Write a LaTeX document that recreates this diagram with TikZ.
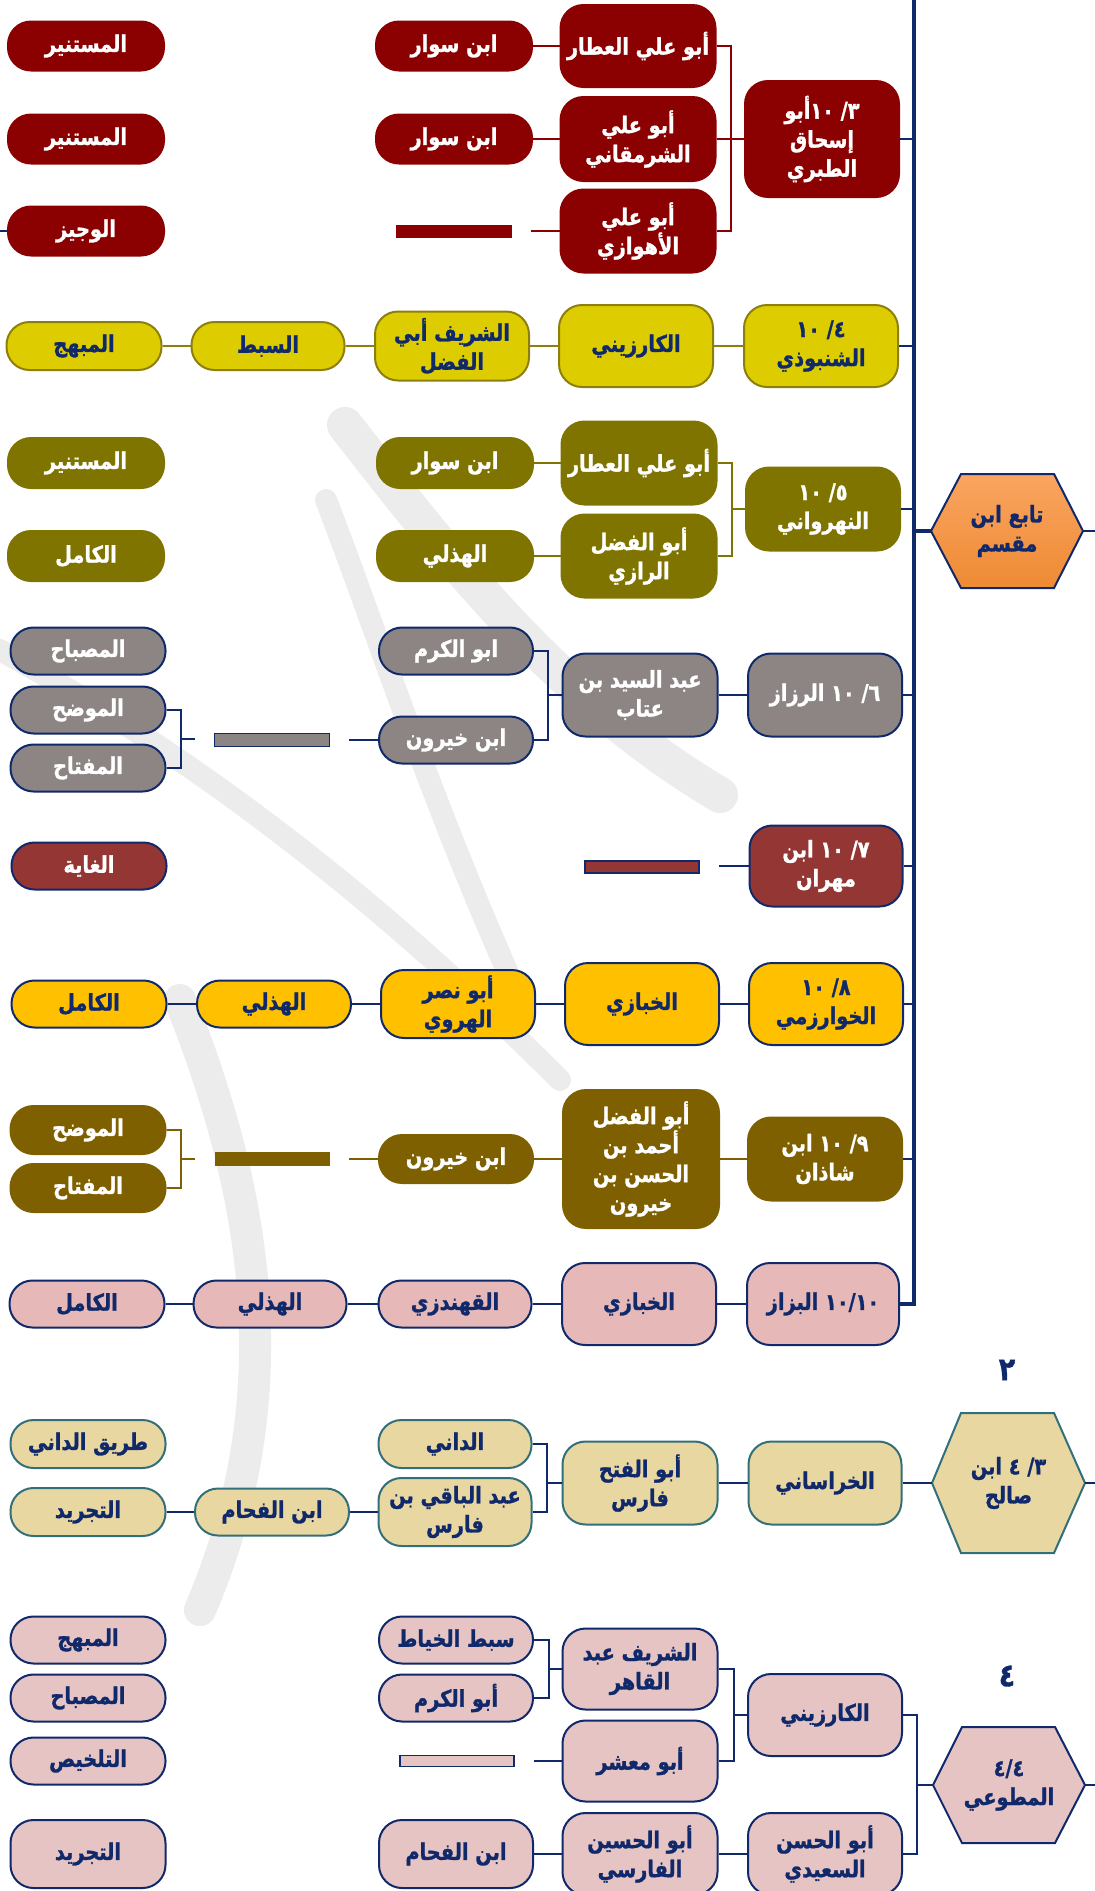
\documentclass[tikz,border=0pt]{standalone}
\usepackage{fontspec}
\TeXXeTstate=1
\newfontfamily\arfont[Script=Arabic, FakeStretch=0.84, FakeBold=1.2]{DejaVu Sans}
\newcommand\arl[1]{\beginR #1\endR}
\definecolor{navy}{HTML}{10296B}
\definecolor{dred}{HTML}{8B0000}
\definecolor{ylw}{HTML}{DDCD00}
\definecolor{ylwb}{HTML}{8C7F0C}
\definecolor{olv}{HTML}{807400}
\definecolor{gry}{HTML}{8C8584}
\definecolor{brick}{HTML}{943634}
\definecolor{gold}{HTML}{FFC000}
\definecolor{brn}{HTML}{7F6000}
\definecolor{pnk}{HTML}{E6B8B7}
\definecolor{parch}{HTML}{E9D7A2}
\definecolor{tealb}{HTML}{31707A}
\definecolor{pnkt}{HTML}{E6C4C4}
\definecolor{orA}{HTML}{FAA561}
\definecolor{orB}{HTML}{EE8A33}
\definecolor{wmc}{HTML}{ECECEC}
\tikzset{
 capbox/.style={rectangle, rounded corners=11.5pt, inner sep=0pt, align=center,
   font=\arfont\bfseries\fontsize{11.5}{14.5}\selectfont, line width=1pt},
 sz/.style 2 args={minimum width=#1*0.5pt, minimum height=#2*0.5pt},
 G1/.style={capbox, fill=dred, draw=dred, text=white},
 G2/.style={capbox, fill=ylw, draw=ylwb, text=navy},
 G3/.style={capbox, fill=olv, draw=olv, text=white},
 G4/.style={capbox, fill=gry, draw=navy, text=white},
 G5/.style={capbox, fill=brick, draw=navy, text=white},
 G6/.style={capbox, fill=gold, draw=navy, text=navy},
 G7/.style={capbox, fill=brn, draw=brn, text=white},
 G8/.style={capbox, fill=pnk, draw=navy, text=navy},
 G9/.style={capbox, fill=parch, draw=tealb, text=navy},
 G10/.style={capbox, fill=pnkt, draw=navy, text=navy},
 barbox/.style={rectangle, inner sep=0pt, line width=0.8pt},
 ln/.style={line width=1pt, draw=navy},
 trunkln/.style={line width=1.6pt, draw=navy},
 hexn/.style={rectangle, inner sep=0pt, align=center, text=navy,
   font=\arfont\bfseries\fontsize{11.5}{14.5}\selectfont},
 hexd/.style={line width=1pt, draw=navy},
 numlbl/.style={text=navy, font=\arfont\bfseries\fontsize{16}{16}\selectfont},
 wm/.style={draw=wmc, line cap=round},
}
\begin{document}
\begin{tikzpicture}[x=0.5pt,y=-0.5pt]
\useasboundingbox (0,0) rectangle (1095,1891);
\fill[white] (0,0) rectangle (1095,1891);

% faint calligraphy watermark
\draw[wm, line width=18pt] (345,425) .. controls (450,560) and (560,700) .. (720,795);
\draw[wm, line width=11pt] (326,500) .. controls (380,640) and (430,800) .. (520,1000);
\draw[wm, line width=11pt] (0,650) .. controls (200,760) and (380,900) .. (560,1080);
\draw[wm, line width=16pt] (180,1000) .. controls (260,1200) and (290,1400) .. (200,1610);

% trunk
\coordinate (ttop) at (914,0);
\coordinate (tbot) at (914,1304);

% ---------------- hexagons
\filldraw[hexd, top color=orA, bottom color=orB] (931,531) -- (961,474) -- (1054,474) -- (1083,531) -- (1054,588) -- (961,588) -- cycle;
\node[hexn, sz={152}{114}] (h1) at (1007,531) {\arl{تابع ابن}\\\arl{مقسم}};
\filldraw[hexd, fill=parch, draw=tealb] (932,1483) -- (961,1413) -- (1054,1413) -- (1085,1483) -- (1054,1553) -- (961,1553) -- cycle;
\node[hexn, sz={153}{140}] (h2) at (1008.5,1483) {\hbox{ابن}\ \hbox{٤}\ \hbox{/}\hbox{٣}\\\arl{صالح}};
\filldraw[hexd, fill=pnkt] (933,1785) -- (962,1727) -- (1055,1727) -- (1085,1785) -- (1055,1843) -- (962,1843) -- cycle;
\node[hexn, sz={152}{116}] (h3) at (1009,1785) {\hbox{٤}\hbox{/}\hbox{٤}\\\arl{المطوعي}};

% ---------------- group 1
\node[G1, sz={156}{49}] (g1a1) at (86,46) {\arl{المستنير}};
\node[G1, sz={156}{49}] (g1a2) at (86,139) {\arl{المستنير}};
\node[G1, sz={156}{49}] (g1a3) at (86,231) {\arl{الوجيز}};
\node[G1, sz={156}{49}] (g1c1) at (454,46) {\arl{ابن سوار}};
\node[G1, sz={156}{49}] (g1c2) at (454,139) {\arl{ابن سوار}};
\node[barbox, fill=dred, sz={116}{13}] (g1bar) at (454,231) {};
\node[G1, sz={155}{82}] (g1d1) at (638,46) {\arl{أبو علي العطار}};
\node[G1, sz={155}{84}] (g1d2) at (638,139) {\arl{أبو علي}\\\arl{الشرمقاني}};
\node[G1, sz={155}{83}] (g1d3) at (638,231) {\arl{أبو علي}\\\arl{الأهوازي}};
\node[G1, sz={154}{116}] (g1e) at (822,139) {\hbox{أبو}\hbox{١٠}\ \hbox{/}\hbox{٣}\\\arl{إسحاق}\\\arl{الطبري}};
\coordinate (g1s) at (531,231);
\coordinate (g1k) at (731,139);
\coordinate (lft) at (0,231);
\draw[ln] (lft) -- (g1a3.west);
\draw[ln, draw=dred] (g1c1.east) -- (g1d1.west);
\draw[ln, draw=dred] (g1c2.east) -- (g1d2.west);
\draw[ln, draw=dred] (g1s) -- (g1d3.west);
\draw[ln, draw=dred] (g1d1.east) -- (g1d1.east -| g1k) -- (g1d3.east -| g1k) -- (g1d3.east);
\draw[ln, draw=dred] (g1d2.east) -- (g1e.west);
\draw[ln] (g1e.east) -- (g1e.east -| ttop);

% ---------------- group 2
\node[G2, sz={155}{48}] (g2a) at (84,346) {\arl{المبهج}};
\node[G2, sz={153}{48}] (g2b) at (268,346) {\arl{السبط}};
\node[G2, sz={154}{69}] (g2c) at (452,346) {\arl{الشريف أبي}\\\arl{الفضل}};
\node[G2, sz={154}{82}] (g2d) at (636,346) {\arl{الكارزيني}};
\node[G2, sz={154}{82}] (g2e) at (821,346) {\hbox{١٠}\ \hbox{/}\hbox{٤}\\\arl{الشنبوذي}};
\draw[ln, draw=ylwb] (g2a) -- (g2b);
\draw[ln, draw=ylwb] (g2b) -- (g2c);
\draw[ln, draw=ylwb] (g2c) -- (g2d);
\draw[ln, draw=ylwb] (g2d) -- (g2e);
\draw[ln] (g2e.east) -- (g2e.east -| ttop);

% ---------------- group 3
\node[G3, sz={156}{50}] (g3a1) at (86,463) {\arl{المستنير}};
\node[G3, sz={156}{50}] (g3a2) at (86,556) {\arl{الكامل}};
\node[G3, sz={156}{50}] (g3c1) at (455,463) {\arl{ابن سوار}};
\node[G3, sz={156}{50}] (g3c2) at (455,556) {\arl{الهذلي}};
\node[G3, sz={155}{83}] (g3d1) at (639,463) {\arl{أبو علي العطار}};
\node[G3, sz={155}{83}] (g3d2) at (639,556) {\arl{أبو الفضل}\\\arl{الرازي}};
\node[G3, sz={154}{83}] (g3e) at (823,509) {\hbox{١٠}\ \hbox{/}\hbox{٥}\\\arl{النهرواني}};
\coordinate (g3k) at (732,509);
\draw[ln, draw=olv] (g3c1) -- (g3d1);
\draw[ln, draw=olv] (g3c2) -- (g3d2);
\draw[ln, draw=olv] (g3d1.east) -- (g3d1.east -| g3k) -- (g3d2.east -| g3k) -- (g3d2.east);
\draw[ln, draw=olv] (g3k) -- (g3e.west);
\draw[ln] (g3e.east) -- (g3e.east -| ttop);

% ---------------- group 4
\node[G4, sz={155}{47}] (g4a1) at (88,651) {\arl{المصباح}};
\node[G4, sz={155}{47}] (g4a2) at (88,710) {\arl{الموضح}};
\node[G4, sz={155}{47}] (g4a3) at (88,768) {\arl{المفتاح}};
\node[barbox, fill=gry, draw=navy, sz={115}{13}] (g4bar) at (272,740) {};
\node[G4, sz={154}{47}] (g4c1) at (456,651) {\arl{ابو الكرم}};
\node[G4, sz={154}{47}] (g4c2) at (456,740) {\arl{ابن خيرون}};
\node[G4, sz={155}{83}] (g4d) at (640,695) {\arl{عبد السيد بن}\\\arl{عتاب}};
\node[G4, sz={154}{83}] (g4e) at (825,695) {\hbox{الرزاز}\ \hbox{١٠}\ \hbox{/}\hbox{٦}};
\coordinate (g4kl) at (181,739);
\coordinate (g4ke) at (195,739);
\coordinate (g4s) at (349,740);
\coordinate (g4kr) at (548,695);
\draw[ln] (g4a2.east) -- (g4a2.east -| g4kl) -- (g4a3.east -| g4kl) -- (g4a3.east);
\draw[ln] (g4kl) -- (g4ke);
\draw[ln] (g4s) -- (g4c2.west);
\draw[ln] (g4c1.east) -- (g4c1.east -| g4kr) -- (g4c2.east -| g4kr) -- (g4c2.east);
\draw[ln] (g4kr) -- (g4d.west);
\draw[ln] (g4d) -- (g4e);
\draw[ln] (g4e.east) -- (g4e.east -| ttop);

% ---------------- group 5
\node[G5, sz={155}{47}] (g5a) at (89,866) {\arl{الغاية}};
\node[barbox, fill=brick, draw=navy, sz={114}{12}] (g5bar) at (642,867) {};
\node[G5, sz={153}{81}] (g5e) at (826,866) {\hbox{ابن}\ \hbox{١٠}\ \hbox{/}\hbox{٧}\\\arl{مهران}};
\coordinate (g5s) at (719,866);
\draw[ln] (g5s) -- (g5e.west);
\draw[ln] (g5e.east) -- (g5e.east -| ttop);

% ---------------- group 6
\node[G6, sz={155}{47}] (g6a) at (89,1004) {\arl{الكامل}};
\node[G6, sz={154}{47}] (g6b) at (274,1004) {\arl{الهذلي}};
\node[G6, sz={154}{68}] (g6c) at (458,1004) {\arl{أبو نصر}\\\arl{الهروي}};
\node[G6, sz={154}{82}] (g6d) at (642,1004) {\arl{الخبازي}};
\node[G6, sz={154}{82}] (g6e) at (826,1004) {\hbox{١٠}\ \hbox{/}\hbox{٨}\\\arl{الخوارزمي}};
\draw[ln] (g6a) -- (g6b);
\draw[ln] (g6b) -- (g6c);
\draw[ln] (g6c) -- (g6d);
\draw[ln] (g6d) -- (g6e);
\draw[ln] (g6e.east) -- (g6e.east -| ttop);

% ---------------- group 7
\node[G7, sz={155}{48}] (g7a1) at (88,1130) {\arl{الموضح}};
\node[G7, sz={155}{48}] (g7a2) at (88,1188) {\arl{المفتاح}};
\node[barbox, fill=brn, sz={115}{14}] (g7bar) at (272,1159) {};
\node[G7, sz={154}{48}] (g7c) at (456,1159) {\arl{ابن خيرون}};
\node[G7, sz={156}{138}] (g7d) at (641,1159) {\arl{أبو الفضل}\\\arl{أحمد بن}\\\arl{الحسن بن}\\\arl{خيرون}};
\node[G7, sz={154}{83}] (g7e) at (825,1159) {\hbox{ابن}\ \hbox{١٠}\ \hbox{/}\hbox{٩}\\\arl{شاذان}};
\coordinate (g7kl) at (181,1159);
\coordinate (g7ke) at (195,1159);
\coordinate (g7s) at (349,1159);
\draw[ln, draw=brn] (g7a1.east) -- (g7a1.east -| g7kl) -- (g7a2.east -| g7kl) -- (g7a2.east);
\draw[ln, draw=brn] (g7kl) -- (g7ke);
\draw[ln, draw=brn] (g7s) -- (g7c.west);
\draw[ln, draw=brn] (g7c) -- (g7d);
\draw[ln, draw=brn] (g7d) -- (g7e);
\draw[ln] (g7e.east) -- (g7e.east -| ttop);

% ---------------- group 8
\node[G8, sz={155}{47}] (g8a) at (87,1304) {\arl{الكامل}};
\node[G8, sz={153}{47}] (g8b) at (270,1304) {\arl{الهذلي}};
\node[G8, sz={153}{47}] (g8c) at (455,1304) {\arl{القهندزي}};
\node[G8, sz={154}{82}] (g8d) at (639,1304) {\arl{الخبازي}};
\node[G8, sz={152}{82}] (g8e) at (823,1304) {\hbox{البزاز}\ \hbox{١٠}\hbox{/}\hbox{١٠}};
\draw[ln] (g8a) -- (g8b);
\draw[ln] (g8b) -- (g8c);
\draw[ln] (g8c) -- (g8d);
\draw[ln] (g8d) -- (g8e);
\draw[trunkln] (g8e.east) -- (tbot) -- (ttop);
\draw[trunkln] (h1.west) -- (h1.west -| ttop);
\coordinate (r1) at (1095,531);
\draw[ln] (h1.east) -- (r1);

% ---------------- group 9
\node[numlbl] (n2) at (1007,1370) {٢};
\node[G9, sz={153}{83}] (g9e) at (825,1483) {\arl{الخراساني}};
\node[G9, sz={155}{83}] (g9d) at (640,1483) {\arl{أبو الفتح}\\\arl{فارس}};
\node[G9, sz={153}{48}] (g9c1) at (455,1444) {\arl{الداني}};
\node[G9, sz={153}{68}] (g9c2) at (455,1512) {\arl{عبد الباقي بن}\\\arl{فارس}};
\node[G9, sz={154}{47}] (g9b) at (272,1512) {\arl{ابن الفحام}};
\node[G9, sz={155}{48}] (g9a1) at (88,1444) {\arl{طريق الداني}};
\node[G9, sz={155}{48}] (g9a2) at (88,1512) {\arl{التجريد}};
\coordinate (g9k) at (547,1483);
\coordinate (r2) at (1095,1483);
\draw[ln] (h2.west) -- (g9e.east);
\draw[ln] (g9e) -- (g9d);
\draw[ln] (g9c1.east) -- (g9c1.east -| g9k) -- (g9c2.east -| g9k) -- (g9c2.east);
\draw[ln] (g9k) -- (g9d.west);
\draw[ln] (g9c2) -- (g9b);
\draw[ln] (g9b) -- (g9a2);
\draw[ln] (h2.east) -- (r2);

% ---------------- group 10
\node[numlbl] (n4) at (1007,1676) {٤};
\node[G10, sz={154}{82}] (g10e1) at (825,1715) {\arl{الكارزيني}};
\node[G10, sz={154}{82}] (g10e2) at (825,1854) {\arl{أبو الحسن}\\\arl{السعيدي}};
\node[G10, sz={155}{81}] (g10d1) at (640,1669) {\arl{الشريف عبد}\\\arl{القاهر}};
\node[G10, sz={155}{81}] (g10d2) at (640,1761) {\arl{أبو معشر}};
\node[G10, sz={155}{82}] (g10d3) at (640,1854) {\arl{أبو الحسين}\\\arl{الفارسي}};
\node[G10, sz={154}{47}] (g10c1) at (456,1640) {\arl{سبط الخياط}};
\node[G10, sz={154}{47}] (g10c2) at (456,1698) {\arl{أبو الكرم}};
\node[barbox, fill=pnkt, draw=navy, sz={114}{11}] (g10bar) at (457,1761) {};
\node[G10, sz={154}{68}] (g10c3) at (456,1854) {\arl{ابن الفحام}};
\node[G10, sz={155}{47}] (g10a1) at (88,1640) {\arl{المبهج}};
\node[G10, sz={155}{47}] (g10a2) at (88,1698) {\arl{المصباح}};
\node[G10, sz={155}{47}] (g10a3) at (88,1761) {\arl{التلخيص}};
\node[G10, sz={155}{68}] (g10a4) at (88,1854) {\arl{التجريد}};
\coordinate (g10kh) at (917,1785);
\coordinate (g10kd) at (734,1715);
\coordinate (g10kc) at (549,1669);
\coordinate (g10s) at (534,1761);
\coordinate (r3) at (1095,1785);
\draw[ln] (h3.west) -- (g10kh);
\draw[ln] (g10e1.east) -- (g10e1.east -| g10kh) -- (g10e2.east -| g10kh) -- (g10e2.east);
\draw[ln] (g10d1.east) -- (g10d1.east -| g10kd) -- (g10d2.east -| g10kd) -- (g10d2.east);
\draw[ln] (g10kd) -- (g10e1.west);
\draw[ln] (g10d3) -- (g10e2);
\draw[ln] (g10c1.east) -- (g10c1.east -| g10kc) -- (g10c2.east -| g10kc) -- (g10c2.east);
\draw[ln] (g10kc) -- (g10d1.west);
\draw[ln] (g10s) -- (g10d2.west);
\draw[ln] (g10c3) -- (g10d3);
\draw[ln] (h3.east) -- (r3);
\end{tikzpicture}
\end{document}
